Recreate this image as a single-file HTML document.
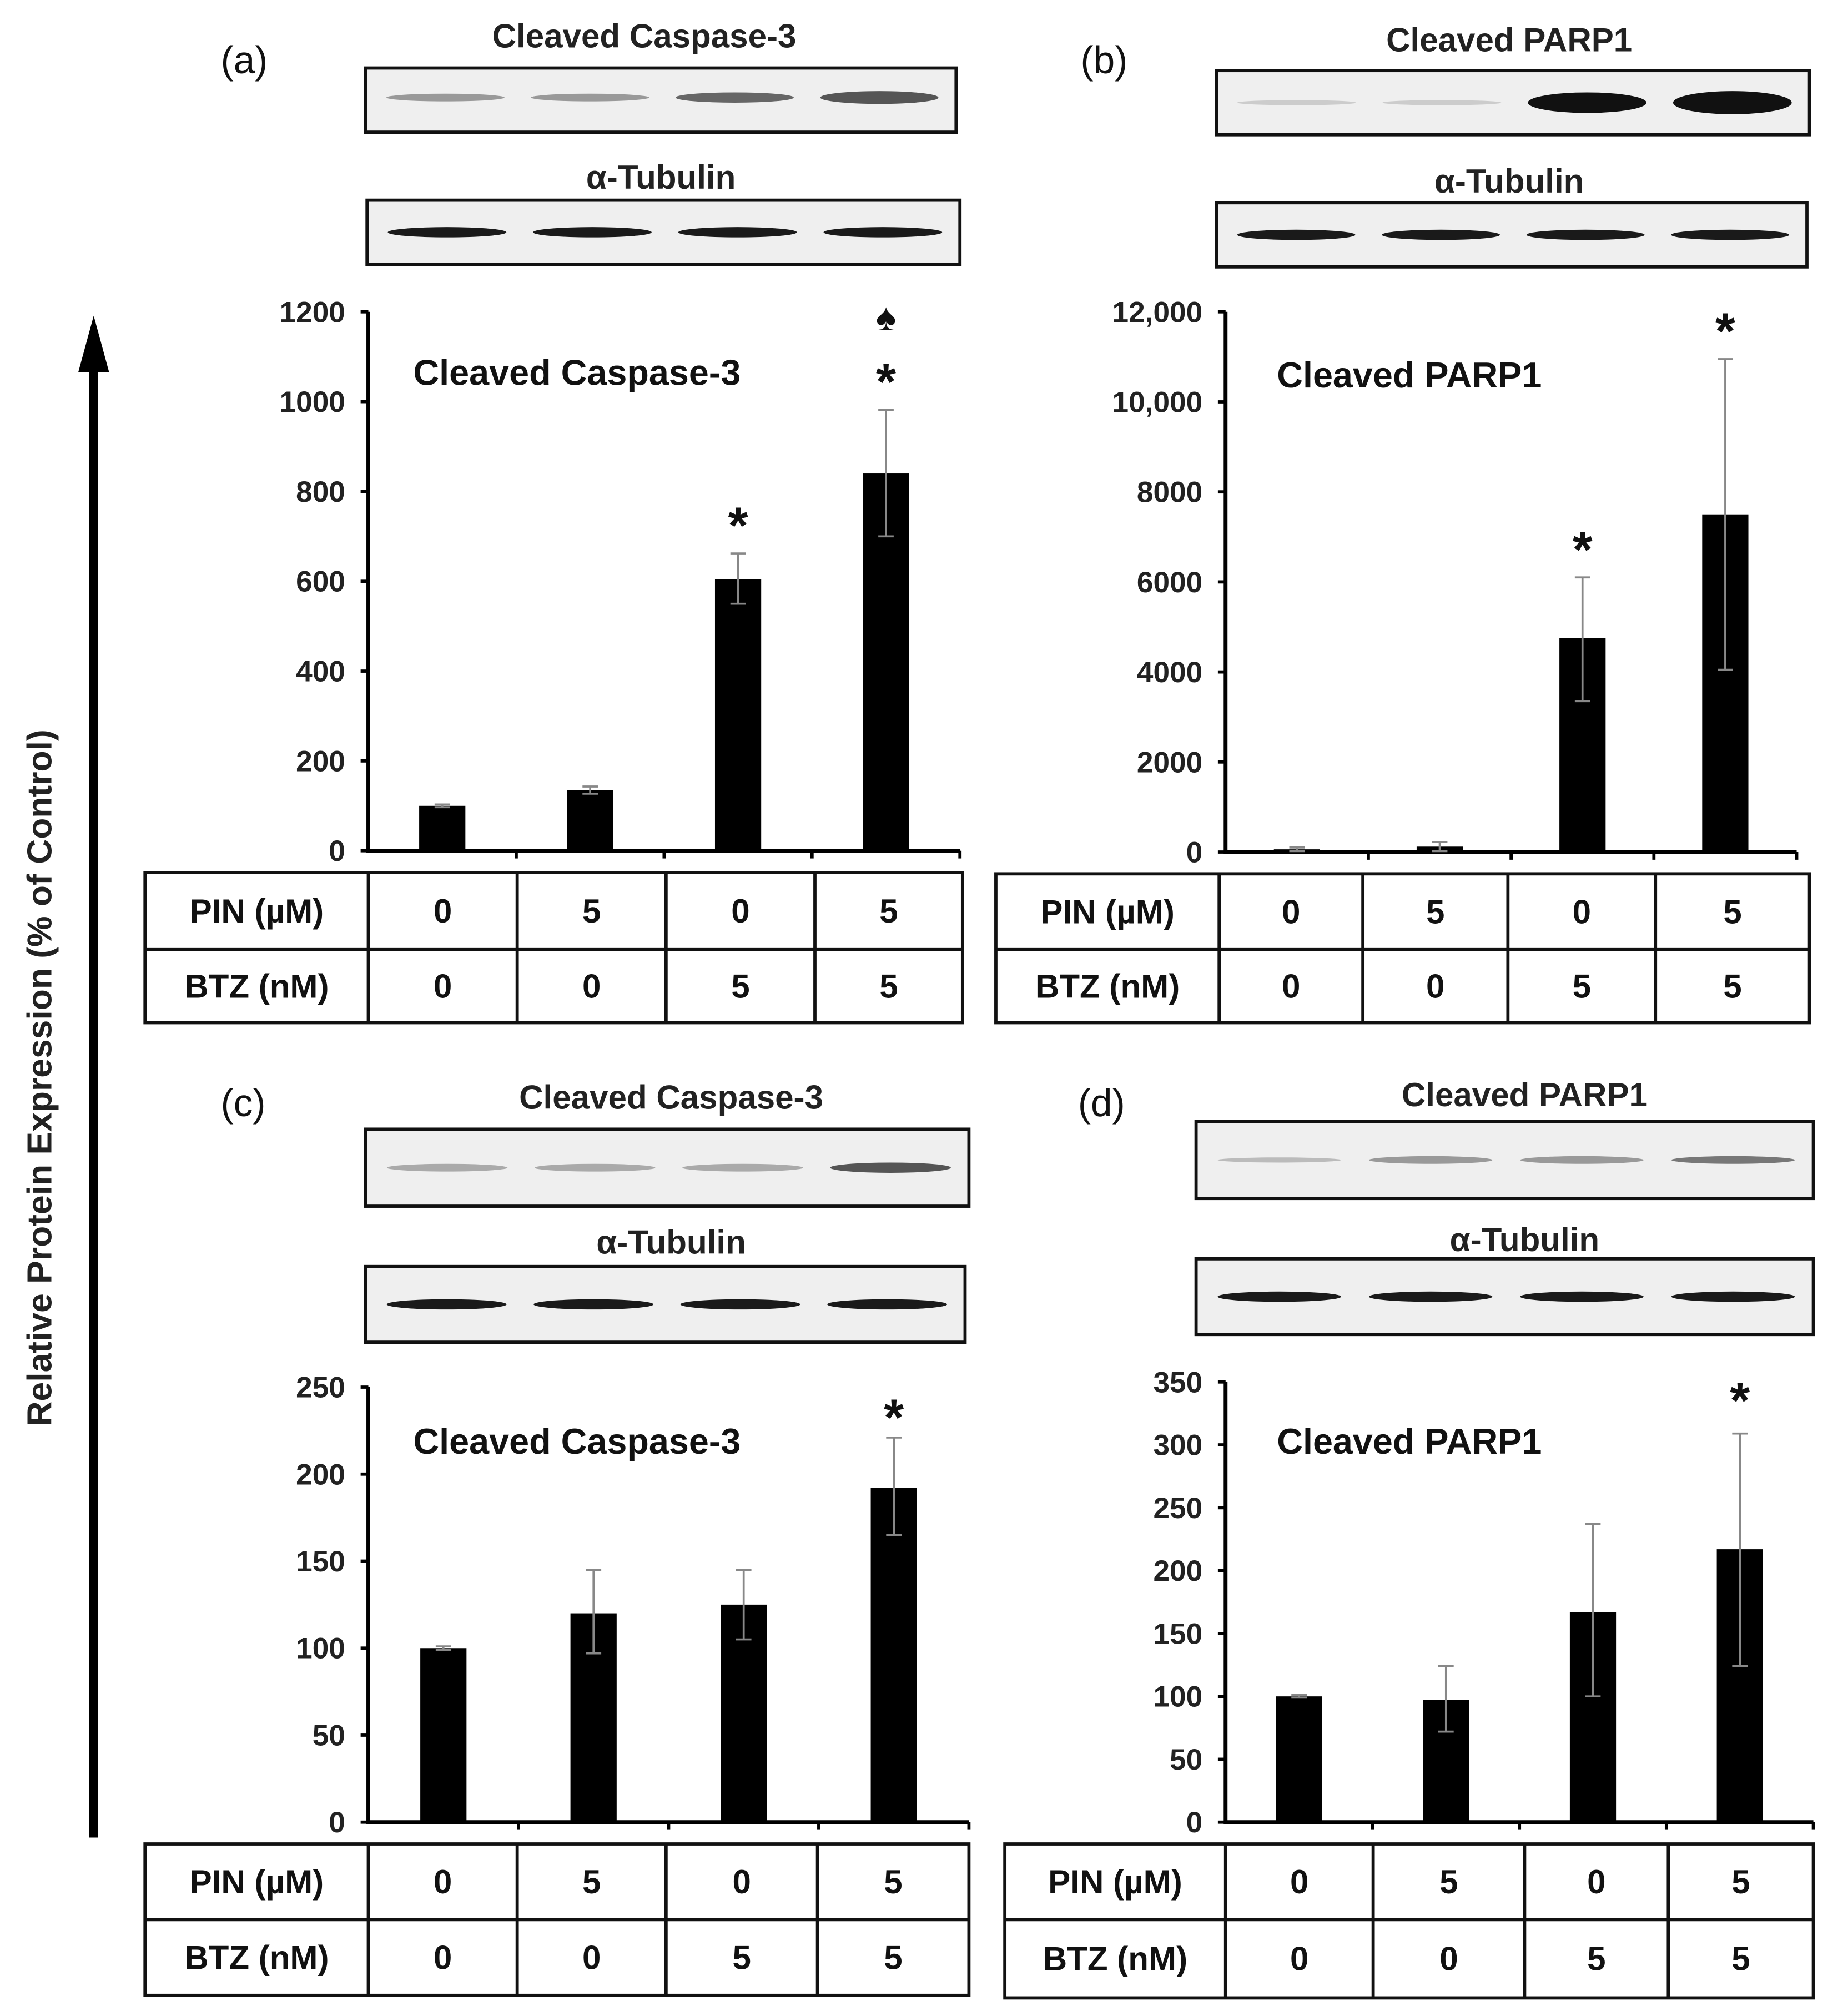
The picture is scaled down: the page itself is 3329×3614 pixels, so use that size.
<!DOCTYPE html>
<html><head><meta charset="utf-8"><style>
html,body{margin:0;padding:0;background:#fff;}
svg{display:block;font-family:"Liberation Sans",sans-serif;}
</style></head><body>
<svg id="fig" xmlns="http://www.w3.org/2000/svg" width="3329" height="3614" viewBox="0 0 1440 1563.3">
<rect width="1440" height="1563.3" fill="#fff"/>
<g id="arrow">
<line x1="73" y1="1432" x2="73" y2="280" stroke="#000" stroke-width="7"/>
<polygon points="61,290 85,290 73,246" fill="#000"/>
</g>
<text transform="translate(40,840) rotate(-90)" text-anchor="middle" font-size="27" font-weight="bold" fill="#222">Relative Protein Expression (% of Control)</text>
</svg>
<script>
// Panel (a)
const catsA=["0/0","5/0","0/5","5/5"];
const valsA=[100,135,605,840];
const errLoA=[97,127,550,700];
const errHiA=[103,143,662,982];
const ticksA=["0","200","400","600","800","1000","1200"];
// Panel (b)
const valsB=[60,120,4750,7500];
const errLoB=[20,20,3350,4050];
const errHiB=[100,220,6100,10950];
const ticksB=["0","2000","4000","6000","8000","10,000","12,000"];
// Panel (c)
const valsC=[100,120,125,192];
const errLoC=[99,97,105,165];
const errHiC=[101,145,145,221];
const ticksC=["0","50","100","150","200","250"];
// Panel (d)
const valsD=[100,97,167,217];
const errLoD=[99,72,100,124];
const errHiD=[101,124,237,309];
const ticksD=["0","50","100","150","200","250","300","350"];
const pinRow=["0","5","0","5"];
const btzRow=["0","0","5","5"];

const NS="http://www.w3.org/2000/svg";
const svg=document.getElementById('fig');
function el(tag,attrs,parent,text){const e=document.createElementNS(NS,tag);for(const k in attrs)e.setAttribute(k,attrs[k]);if(text!==undefined)e.textContent=text;(parent||svg).appendChild(e);return e;}

function panel(cfg){
  const g=el('g',{});
  
  
  const lab=el('text',{x:cfg.labX,y:cfg.labY,'font-size':30,fill:'#111'},g,'('+cfg.id+')');
  
  
  const b1=el('text',{x:cfg.b1tx,y:cfg.b1ty,'font-size':26,'font-weight':'bold','text-anchor':'middle',fill:'#222'},g,cfg.title);
  
  
  const bb=cfg.blot1;
  const r1=el('rect',{x:bb[0],y:bb[1],width:bb[2]-bb[0],height:bb[3]-bb[1],fill:'#efefef',stroke:'#111','stroke-width':2.5},g);
  
  
  for(let i=0;i<4;i++){const cx=bb[0]+(bb[2]-bb[0])*(0.135+0.245*i);const e=el('ellipse',{cx:cx,cy:(bb[1]+bb[3])/2+(cfg.bandDy||0),rx:(bb[2]-bb[0])*0.1,ry:cfg.band1h[i],fill:cfg.band1c[i]},g);
    
    }
  const b2=el('text',{x:cfg.b2tx,y:cfg.b2ty,'font-size':26,'font-weight':'bold','text-anchor':'middle',fill:'#222'},g,'α-Tubulin');
  
  
  const tb=cfg.blot2;
  const r2=el('rect',{x:tb[0],y:tb[1],width:tb[2]-tb[0],height:tb[3]-tb[1],fill:'#efefef',stroke:'#111','stroke-width':2.5},g);
  
  
  for(let i=0;i<4;i++){const cx=tb[0]+(tb[2]-tb[0])*(0.135+0.245*i);const e=el('ellipse',{cx:cx,cy:(tb[1]+tb[3])/2,rx:(tb[2]-tb[0])*0.1,ry:4,fill:'#1a1a1a'},g);
    
    }
  const ticks=cfg.ticks, maxV=cfg.max;
  const y=v=>cfg.y0-(v/maxV)*(cfg.y0-cfg.yTop);
  const ax=el('line',{x1:cfg.ax,y1:cfg.yTop,x2:cfg.ax,y2:cfg.y0+1.5,stroke:'#000','stroke-width':3},g);
  
  
  const xx=el('line',{x1:cfg.ax,y1:cfg.y0,x2:cfg.axEnd,y2:cfg.y0,stroke:'#000','stroke-width':3},g);
  
  
  ticks.forEach((t,i)=>{const v=i*maxV/(ticks.length-1);const yy=y(v);
    const tl=el('line',{x1:cfg.ax-6,y1:yy,x2:cfg.ax,y2:yy,stroke:'#000','stroke-width':2.5},g);
    
    
    const tt=el('text',{x:cfg.ax-18,y:yy+8,'font-size':23,'font-weight':'bold','text-anchor':'end',fill:'#222'},g,t);
    
    });
  const step=(cfg.axEnd-cfg.ax)/4;
  for(let i=1;i<=4;i++){const xt=cfg.ax+step*i;const tk=el('line',{x1:xt,y1:cfg.y0,x2:xt,y2:cfg.y0+6,stroke:'#000','stroke-width':2.5},g);
    
    }
  const ct=el('text',{x:cfg.ctx,y:cfg.cty,'font-size':28,'font-weight':'bold',fill:'#111'},g,cfg.title);
  
  
  cfg.vals.forEach((v,i)=>{const cx=cfg.ax+step*(i+0.5);
    const r=el('rect',{x:cx-18,y:y(v),width:36,height:cfg.y0-y(v),fill:'#000'},g);
    
    
    const e=el('path',{d:`M${cx},${y(cfg.lo[i])}V${y(cfg.hi[i])}M${cx-6},${y(cfg.hi[i])}H${cx+6}M${cx-6},${y(cfg.lo[i])}H${cx+6}`,stroke:'#888','stroke-width':1.6,fill:'none'},g);
    
    
    if(cfg.stars[i]){const s=el('text',{x:cx,y:y(cfg.hi[i])-cfg.starGap,'font-size':40,'font-weight':'bold','text-anchor':'middle',fill:'#111'},g,'*');
      
      }
    if(cfg.spade&&cfg.spade===i+1){const s=el('text',{x:cx,y:y(cfg.hi[i])-62,'font-size':30,'text-anchor':'middle',fill:'#111'},g,'♠');
      
      }
  });
  const T=cfg.table;
  const tr=el('rect',{x:T[0],y:T[1],width:T[2]-T[0],height:T[3]-T[1],fill:'none',stroke:'#111','stroke-width':2.5},g);
  
  
  el('line',{x1:T[0],y1:T[4],x2:T[2],y2:T[4],stroke:'#111','stroke-width':2.5},g);
  const cols=[T[0]].concat(cfg.cols).concat([T[2]]);
  cfg.cols.forEach(c=>el('line',{x1:c,y1:T[1],x2:c,y2:T[3],stroke:'#111','stroke-width':2.5},g));
  const rows=[["PIN (µM)"].concat(pinRow),["BTZ (nM)"].concat(btzRow)];
  const ys=[(T[1]+T[4])/2+9,(T[4]+T[3])/2+9];
  rows.forEach((row,ri)=>row.forEach((txt,ci)=>{const t=el('text',{x:(cols[ci]+cols[ci+1])/2,y:ys[ri],'font-size':26,'font-weight':'bold','text-anchor':'middle',fill:'#111'},g,txt);
    
    }));
}
panel({id:'a',labX:172,labY:57,title:'Cleaved Caspase-3',b1tx:502,b1ty:37,blot1:[285,53,745,103],band1h:[3,3,4,5],band1c:['#999','#999','#666','#555'],bandDy:-2,b2tx:515,b2ty:147,blot2:[286,156,748,206],
  ticks:ticksA,max:1200,ax:287,axEnd:748,y0:663,yTop:243,ctx:322,cty:300,vals:valsA,lo:errLoA,hi:errHiA,stars:[0,0,1,1],starGap:8,spade:4,
  table:[113,680,750,797,740],cols:[287,403,519,635]});
panel({id:'b',labX:842,labY:57,title:'Cleaved PARP1',b1tx:1176,b1ty:40,blot1:[948,55,1410,105],band1h:[2,2,8,9],band1c:['#ccc','#ccc','#111','#111'],b2tx:1176,b2ty:150,blot2:[948,158,1408,208],
  ticks:ticksB,max:12000,ax:955,axEnd:1400,y0:664,yTop:243,ctx:995,cty:302,vals:valsB,lo:errLoB,hi:errHiB,stars:[0,0,1,1],starGap:8,
  table:[776,681,1410,797,740],cols:[950,1062,1175,1290]});
panel({id:'c',labX:172,labY:870,title:'Cleaved Caspase-3',b1tx:523,b1ty:864,blot1:[285,880,755,940],band1h:[3,3,3,4],band1c:['#aaa','#aaa','#aaa','#555'],b2tx:523,b2ty:977,blot2:[285,987,752,1046],
  ticks:ticksC,max:250,ax:287,axEnd:755,y0:1420,yTop:1081,ctx:322,cty:1133,vals:valsC,lo:errLoC,hi:errHiC,stars:[0,0,0,1],starGap:2,
  table:[113,1437,755,1555,1496],cols:[287,403,519,637]});
panel({id:'d',labX:840,labY:870,title:'Cleaved PARP1',b1tx:1188,b1ty:862,blot1:[932,874,1413,934],band1h:[2,3,3,3],band1c:['#bbb','#999','#999','#777'],b2tx:1188,b2ty:975,blot2:[932,981,1413,1040],
  ticks:ticksD,max:350,ax:955,axEnd:1413,y0:1420,yTop:1077,ctx:995,cty:1133,vals:valsD,lo:errLoD,hi:errHiD,stars:[0,0,0,1],starGap:12,
  table:[783,1437,1413,1557,1496],cols:[955,1070,1188,1300]});
</script>
</body></html>
